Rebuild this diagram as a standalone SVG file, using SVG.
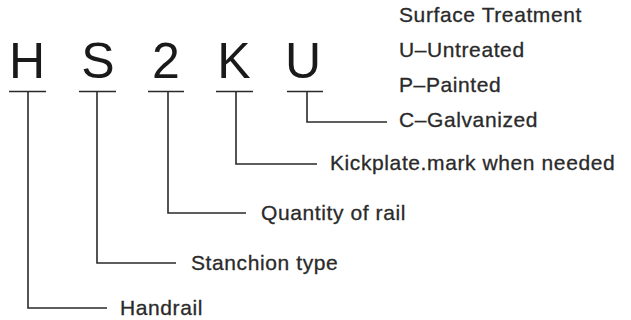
<svg xmlns="http://www.w3.org/2000/svg" width="631" height="320" viewBox="0 0 631 320">
<style>
.big{font-family:"Liberation Sans",Arial,sans-serif;font-size:50px;fill:#1a1a1a;text-anchor:middle}
.lbl{font-family:"Liberation Sans",Arial,sans-serif;font-size:21px;fill:#2a2a2a;stroke:#2a2a2a;stroke-width:0.3;letter-spacing:0.6px}
.ln{stroke:#2a2a2a;stroke-width:1.6;fill:none}
</style>
<rect width="631" height="320" fill="#ffffff"/>
<g id="code">
<text class="big" x="27" y="78">H</text>
<text class="big" x="98" y="78">S</text>
<text class="big" x="166" y="78">2</text>
<text class="big" x="234" y="78">K</text>
<text class="big" x="303" y="78">U</text>
</g>
<g id="connectors">
<path class="ln" d="M9 91.5H46M28 91.5V308H107"/>
<path class="ln" d="M79 91.5H116M97 91.5V263H176"/>
<path class="ln" d="M148 91.5H184M168 91.5V213H246"/>
<path class="ln" d="M216 91.5H253M236 91.5V164H317"/>
<path class="ln" d="M287 91.5H323M307 91.5V122H387"/>
</g>
<g id="surface">
<text class="lbl" x="399" y="22">Surface Treatment</text>
<text class="lbl" x="399" y="57">U–Untreated</text>
<text class="lbl" x="399" y="92">P–Painted</text>
<text class="lbl" x="399" y="127">C–Galvanized</text>
</g>
<g id="kickplate"><text class="lbl" x="330" y="170">Kickplate.mark when needed</text></g>
<g id="quantity"><text class="lbl" x="261" y="220">Quantity of rail</text></g>
<g id="stanchion"><text class="lbl" x="191" y="270">Stanchion type</text></g>
<g id="handrail"><text class="lbl" x="120" y="315">Handrail</text></g>
</svg>
